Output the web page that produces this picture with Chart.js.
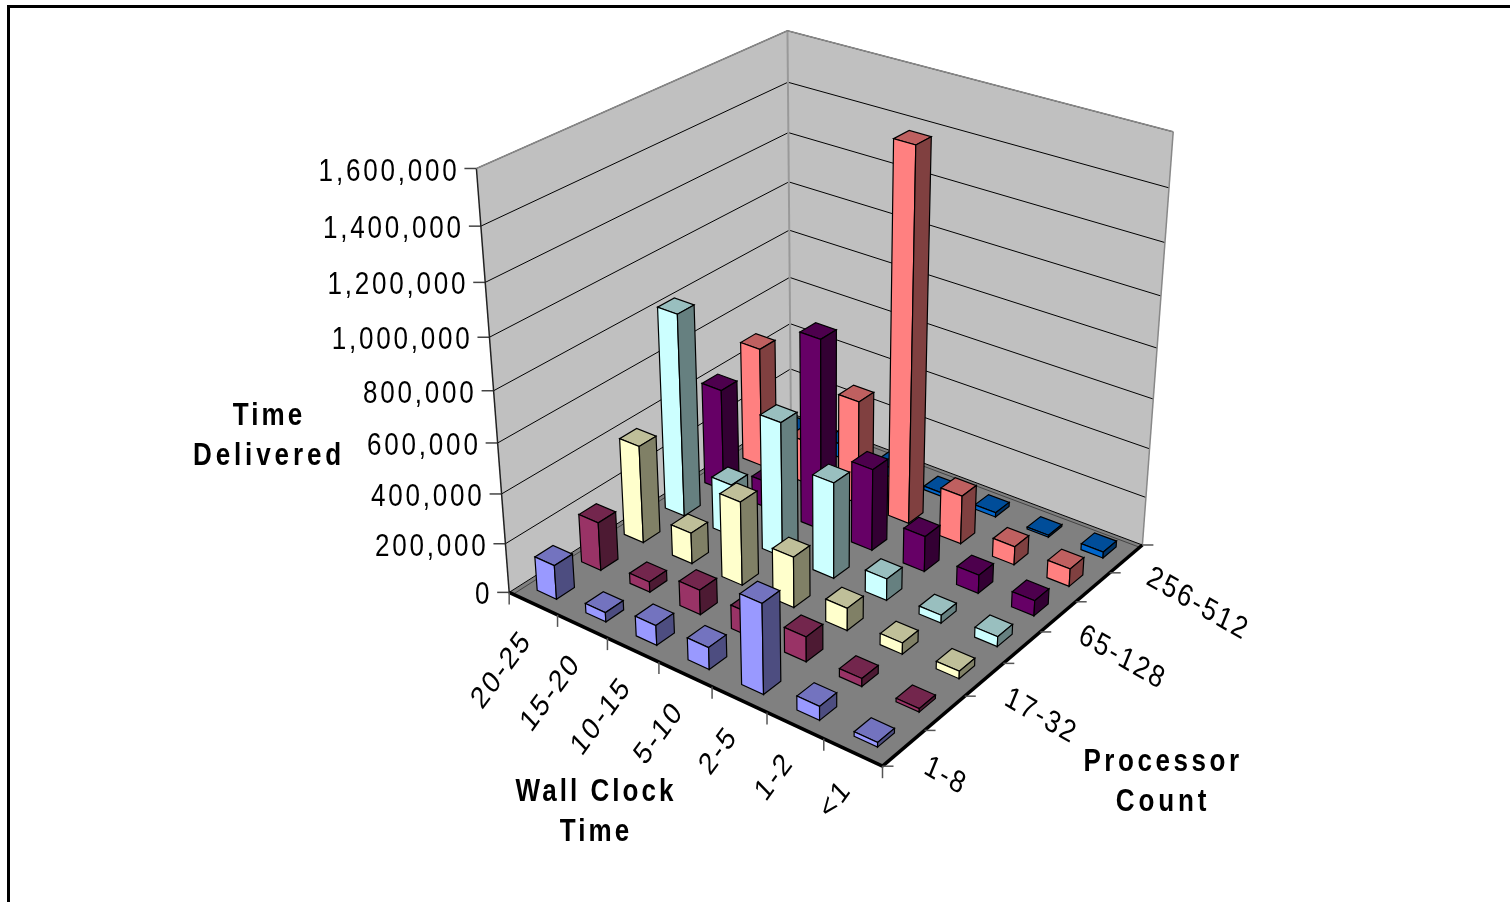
<!DOCTYPE html>
<html>
<head>
<meta charset="utf-8">
<title>Time Delivered</title>
<script src="https://cdn.jsdelivr.net/npm/chart.js@4"></script>
<style>
  html, body { margin: 0; padding: 0; background: #fff; overflow: hidden; }
  canvas { display: block; }
</style>
</head>
<body>
<canvas id="myChart" width="1510" height="902"></canvas>
<script>
// Categories
var wallClock = ['20-25', '15-20', '10-15', '5-10', '2-5', '1-2', '<1'];
var processors = ['1-8', '9-16', '17-32', '33-64', '65-128', '129-256', '256-512'];

// Time delivered, one array per processor count, in wallClock order
var p1to8 = [138000, 38000, 80000, 88000, 355000, 55000, 18000];
var p9to16 = [197000, 42000, 100000, 95000, 100000, 32000, 14000];
var p17to32 = [400000, 127000, 340000, 205000, 90000, 45000, 30000];
var p33to64 = [830000, 215000, 550000, 390000, 88000, 32000, 40000];
var p65to128 = [425000, 110000, 780000, 335000, 145000, 75000, 62000];
var p129to256 = [500000, 180000, 430000, 1492000, 200000, 75000, 72000];
var p256to512 = [40000, 60000, 40000, 15000, 18000, 8000, 25000];

var seriesValues = [p1to8, p9to16, p17to32, p33to64, p65to128, p129to256, p256to512];
var seriesColors = ['#9999ff', '#993366', '#ffffcc', '#ccffff', '#660066', '#ff8080', '#0066cc'];

// Corners of the plot box on screen: [u, v, w, screenX, screenY]
var boxCorners = [
  [0, 0, 0, 510, 593], [1, 0, 0, 882, 766], [1, 1, 0, 1143, 545], [0, 1, 0, 790, 413],
  [0, 0, 1, 476, 168], [0, 1, 1, 788, 31], [1, 1, 1, 1173, 132]
];
var barShare = 0.4;

// Gaussian elimination, used for the camera fit below
function solve(A, b) {
  var n = b.length;
  for (var i = 0; i < n; i++) {
    var best = i;
    for (var r = i + 1; r < n; r++) if (Math.abs(A[r][i]) > Math.abs(A[best][i])) best = r;
    var t = A[i]; A[i] = A[best]; A[best] = t;
    t = b[i]; b[i] = b[best]; b[best] = t;
    for (var r2 = i + 1; r2 < n; r2++) {
      var f = A[r2][i] / A[i][i];
      for (var c = i; c < n; c++) A[r2][c] -= f * A[i][c];
      b[r2] -= f * b[i];
    }
  }
  var x = new Array(n);
  for (var k = n - 1; k >= 0; k--) {
    var s = b[k];
    for (var m = k + 1; m < n; m++) s -= A[k][m] * x[m];
    x[k] = s / A[k][k];
  }
  return x;
}

// Least squares 3x4 projection through the box corners
function fitCamera(corners) {
  var rows = [], rhs = [];
  corners.forEach(function(p) {
    var u = p[0], v = p[1], w = p[2], X = p[3] / 1000, Y = p[4] / 1000;
    rows.push([u, v, w, 1, 0, 0, 0, 0, -X * u, -X * v, -X * w]); rhs.push(X);
    rows.push([0, 0, 0, 0, u, v, w, 1, -Y * u, -Y * v, -Y * w]); rhs.push(Y);
  });
  var N = [], d = [];
  for (var i = 0; i < 11; i++) {
    N.push([]);
    d.push(0);
    for (var j = 0; j < 11; j++) {
      var sum = 0;
      rows.forEach(function(r) { sum += r[i] * r[j]; });
      N[i].push(sum);
    }
    rows.forEach(function(r, k) { d[i] += r[i] * rhs[k]; });
  }
  return solve(N, d);
}

var cam = fitCamera(boxCorners);

function project(u, v, w) {
  var q = cam[8] * u + cam[9] * v + cam[10] * w + 1;
  return {
    x: 1000 * (cam[0] * u + cam[1] * v + cam[2] * w + cam[3]) / q,
    y: 1000 * (cam[4] * u + cam[5] * v + cam[6] * w + cam[7]) / q
  };
}

function polygon(ctx, pts, fill, stroke, width) {
  ctx.beginPath();
  pts.forEach(function(p, i) {
    if (i === 0) ctx.moveTo(p.x, p.y); else ctx.lineTo(p.x, p.y);
  });
  ctx.closePath();
  if (fill) { ctx.fillStyle = fill; ctx.fill(); }
  if (stroke) { ctx.strokeStyle = stroke; ctx.lineWidth = width || 1; ctx.stroke(); }
}

function line(ctx, a, b, color, width) {
  ctx.beginPath();
  ctx.moveTo(a.x, a.y);
  ctx.lineTo(b.x, b.y);
  ctx.strokeStyle = color;
  ctx.lineWidth = width;
  ctx.stroke();
}

// Tracked text, squeezed sideways so the glyphs come out tall and narrow
function label(ctx, text, x, y, angle, align, font, spacing) {
  ctx.save();
  ctx.translate(x, y);
  ctx.scale(0.84, 1);
  ctx.rotate(angle * Math.PI / 180);
  ctx.font = font;
  ctx.letterSpacing = spacing;
  ctx.textAlign = align;
  ctx.textBaseline = 'middle';
  ctx.fillStyle = '#000';
  ctx.fillText(text, 0, 0);
  ctx.restore();
}

function shade(hex, k) {
  var n = parseInt(hex.slice(1), 16);
  var r = Math.round((n >> 16 & 255) * k), g = Math.round((n >> 8 & 255) * k), b = Math.round((n & 255) * k);
  return 'rgb(' + r + ',' + g + ',' + b + ')';
}

// Scale position as a 0..1 share of the axis
function share(scale, value) {
  return scale.getDecimalForPixel(scale.getPixelForValue(value));
}

var tickFont = '31px "Liberation Sans"';
var titleFont = 'bold 31px "Liberation Sans"';

var box3d = {
  id: 'box3d',
  beforeDatasetsDraw: function(chart) {
    var ctx = chart.ctx;
    var xs = chart.scales.x, ys = chart.scales.y, zs = chart.scales.z;

    // outer frame, runs off the right and bottom of the page
    ctx.beginPath();
    ctx.moveTo(8.5, 902);
    ctx.lineTo(8.5, 6.5);
    ctx.lineTo(1510, 6.5);
    ctx.strokeStyle = '#000';
    ctx.lineWidth = 3;
    ctx.stroke();

    // walls and floor
    polygon(ctx, [project(0, 0, 0), project(0, 1, 0), project(0, 1, 1), project(0, 0, 1)], '#c0c0c0');
    polygon(ctx, [project(0, 1, 0), project(1, 1, 0), project(1, 1, 1), project(0, 1, 1)], '#c0c0c0');
    polygon(ctx, [project(0, 0, 0), project(1, 0, 0), project(1, 1, 0), project(0, 1, 0)], '#808080');

    // horizontal gridlines and value ticks
    ys.ticks.forEach(function(t) {
      var w = share(ys, t.value);
      line(ctx, project(0, 0, w), project(0, 1, w), '#000', 1);
      line(ctx, project(0, 1, w), project(1, 1, w), '#000', 1);
      var p = project(0, 0, w);
      line(ctx, p, { x: p.x - 12, y: p.y }, '#444', 1.5);
      label(ctx, t.label, p.x - 17, p.y + 3.5, 0, 'right', tickFont, '3.3px');
    });

    // second line along the wall foot, the wall's thickness
    line(ctx, project(0.012, 0, 0), project(0.012, 1, 0), '#444', 1);
    line(ctx, project(0, 0.988, 0), project(1, 0.988, 0), '#444', 1);

    // wall edges
    line(ctx, project(0, 0, 0), project(0, 0, 1), '#222', 1.5);
    line(ctx, project(0, 1, 0), project(0, 1, 1), '#999', 2);
    line(ctx, project(1, 1, 0), project(1, 1, 1), '#888', 1.5);
    line(ctx, project(0, 0, 1), project(0, 1, 1), '#888', 1.5);
    line(ctx, project(0, 1, 1), project(1, 1, 1), '#888', 1.5);

    // front edges of the floor and their ticks
    line(ctx, project(0, 0, 0), project(1, 0, 0), '#000', 3.5);
    line(ctx, project(1, 0, 0), project(1, 1, 0), '#000', 3.5);
    for (var i = 0; i <= wallClock.length; i++) {
      var a = project(i / wallClock.length, 0, 0);
      line(ctx, a, { x: a.x, y: a.y + 12 }, '#555', 1.5);
    }
    for (var j = 0; j <= processors.length; j++) {
      var b = project(1, j / processors.length, 0);
      line(ctx, b, { x: b.x + 11, y: b.y }, '#555', 1.5);
    }

    // bars, back corner first so nearer ones paint over
    var halfU = barShare / 2 / wallClock.length;
    var halfV = barShare / 2 / processors.length;
    for (var k = processors.length - 1; k >= 0; k--) {
      var vc = share(zs, processors[k]);
      var color = seriesColors[k];
      chart.data.datasets[k].data.forEach(function(val, n) {
        var uc = share(xs, n);
        var h = share(ys, val);
        var u0 = uc - halfU, u1 = uc + halfU, v0 = vc - halfV, v1 = vc + halfV;
        // top, front-left and front-right faces
        polygon(ctx, [project(u0, v0, h), project(u1, v0, h), project(u1, v1, h), project(u0, v1, h)], shade(color, 0.75), '#000', 1.2);
        polygon(ctx, [project(u0, v0, 0), project(u1, v0, 0), project(u1, v0, h), project(u0, v0, h)], color, '#000', 1.2);
        polygon(ctx, [project(u1, v0, 0), project(u1, v1, 0), project(u1, v1, h), project(u1, v0, h)], shade(color, 0.5), '#000', 1.2);
      });
    }

    // category labels
    wallClock.forEach(function(name, n) {
      var p = project(share(xs, n), 0, 0);
      label(ctx, name, p.x - 6, p.y + 32, -49, 'right', tickFont, '2.5px');
    });
    processors.forEach(function(name, n) {
      if (n % 2) return;
      var p = project(1, share(zs, name), 0);
      label(ctx, name, p.x + 22, p.y + 17, 26, 'left', tickFont, '2.5px');
    });

    // axis titles
    label(ctx, 'Time', 269, 416, 0, 'center', titleFont, '3.6px');
    label(ctx, 'Delivered', 269, 456, 0, 'center', titleFont, '4.6px');
    label(ctx, 'Wall Clock', 596, 792, 0, 'center', titleFont, '3.6px');
    label(ctx, 'Time', 596, 832, 0, 'center', titleFont, '3.6px');
    label(ctx, 'Processor', 1163, 762, 0, 'center', titleFont, '4.2px');
    label(ctx, 'Count', 1163, 802, 0, 'center', titleFont, '4.6px');

    return false; // the flat bars are replaced by the boxes above
  }
};

var ctx = document.getElementById('myChart').getContext('2d');
var myChart = new Chart(ctx, {
  type: 'bar',
  data: {
    labels: wallClock,
    datasets: processors.map(function(name, i) {
      return { label: name, data: seriesValues[i], backgroundColor: seriesColors[i] };
    })
  },
  options: {
    responsive: false,
    animation: false,
    events: [],
    plugins: { legend: { display: false }, tooltip: { enabled: false } },
    scales: {
      x: { type: 'category', labels: wallClock, display: false, offset: true },
      z: { type: 'category', axis: 'x', position: 'top', labels: processors, display: false, offset: true },
      y: {
        type: 'linear',
        min: 0,
        max: 1600000,
        display: false,
        ticks: {
          stepSize: 200000,
          callback: function(v) { return v.toLocaleString('en-US'); }
        }
      }
    }
  },
  plugins: [box3d]
});
</script>
</body>
</html>
